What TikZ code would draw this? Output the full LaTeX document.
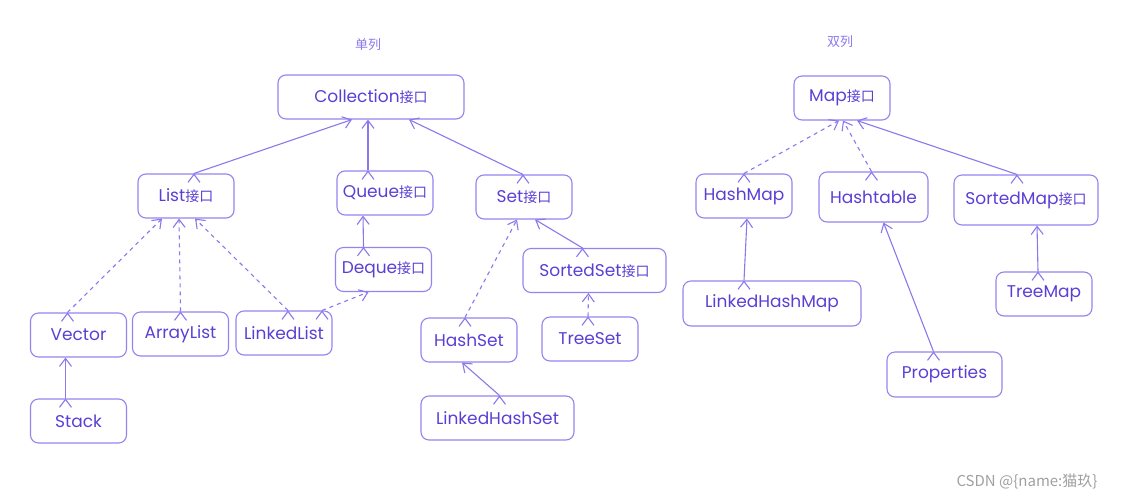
\documentclass[tikz,border=0pt]{standalone}
\usepackage{fontspec}
\setmainfont{Poppins}
\newfontfamily\cjk{Noto Sans CJK SC}
\usepackage{tikz}
\usetikzlibrary{arrows.meta,positioning}
\definecolor{boxline}{HTML}{9683F0}
\definecolor{boxtext}{HTML}{5B3FD4}
\definecolor{arrline}{HTML}{8B78EC}
\definecolor{marktext}{HTML}{A0A0A0}
\newcommand{\jiekou}{{\cjk\fontsize{14}{16}\selectfont 接口}}

\begin{document}
\begin{tikzpicture}[x=1pt, y=-1pt, line width=1.1pt,
    node_style/.style={rectangle, rounded corners=8pt, draw=boxline, text=boxtext,
        minimum width=96pt, minimum height=44pt, inner sep=2pt, font=\fontsize{17}{20}\selectfont},
    title_style/.style={text=arrline, font=\cjk\fontsize{13}{16}\selectfont},
    edge_solid/.style={draw=arrline, -{Straight Barb[length=8pt,width=12pt]}},
    edge_dash/.style={draw=arrline, dash pattern=on 4pt off 4pt, -{Straight Barb[length=8pt,width=12pt]}}]

	\useasboundingbox (0,0) rectangle (1129,501);

	\node[title_style] (t1) at (368, 45) {单列};
	\node[title_style] (t2) at (840, 42) {双列};

	% single column
	\node[node_style, minimum width=186pt] (coll) at (371, 97) {Collection\jiekou};
	\node[node_style] (list) at (186, 196) {List\jiekou};
	\node[node_style] (queue) at (385, 193) {Queue\jiekou};
	\node[node_style] (set) at (524, 197) {Set\jiekou};
	\node[node_style] (deque) at (383.5, 269.5) {Deque\jiekou};
	\node[node_style, minimum width=143pt] (sset) at (594.5, 270.5) {SortedSet\jiekou};
	\node[node_style] (vector) at (78.5, 335) {Vector};
	\node[node_style] (alist) at (180.5, 334) {ArrayList};
	\node[node_style] (llist) at (284, 333) {LinkedList};
	\node[node_style] (hset) at (469, 340) {HashSet};
	\node[node_style] (tset) at (590, 339) {TreeSet};
	\node[node_style] (stack) at (78.5, 421) {Stack};
	\node[node_style, minimum width=153pt] (lhset) at (497.5, 418) {LinkedHashSet};

	% double column
	\node[node_style] (map) at (842, 98) {Map\jiekou};
	\node[node_style] (hmap) at (744, 196) {HashMap};
	\node[node_style, minimum width=109pt, minimum height=50pt] (htable) at (873.5, 197) {Hashtable};
	\node[node_style, minimum width=144pt, minimum height=50pt] (smap) at (1026, 200) {SortedMap\jiekou};
	\node[node_style, minimum width=178pt, minimum height=45pt] (lhmap) at (772, 303.5) {LinkedHashMap};
	\node[node_style] (tmap) at (1044, 294) {TreeMap};
	\node[node_style, minimum width=115pt, minimum height=45pt] (props) at (944.5, 374.5) {Properties};

	\node[text=marktext, font=\cjk\fontsize{15}{18}\selectfont] (mark) at (1027, 481) {CSDN @\{name:猫玖\}};

	\draw[edge_solid] ([xshift=8]list.north) edge ([xshift=-19]coll.south);
	\draw[edge_solid] ([xshift=-17]queue.north) edge ([xshift=-3]coll.south);
	\draw[edge_solid] ([xshift=-1]set.north) edge ([xshift=38]coll.south);
	\draw[edge_solid] ([xshift=-20]deque.north) edge ([xshift=-22]queue.south);
	\draw[edge_solid] ([xshift=-12]sset.north) edge ([xshift=11]set.south);
	\draw[edge_dash] ([xshift=-4]hset.north) edge ([xshift=-7]set.south);
	\draw[edge_dash] ([xshift=-2]tset.north) edge ([xshift=-6]sset.south);
	\draw[edge_solid] ([xshift=2]lhset.north) edge ([xshift=-7]hset.south);

	\draw[edge_dash] ([xshift=-11]vector.north) edge ([xshift=-24]list.south);
	\draw[edge_dash] (alist.north) edge ([xshift=-7]list.south);
	\draw[edge_dash] ([xshift=4]llist.north) edge ([xshift=9]list.south);
	\draw[edge_dash] ([xshift=38]llist.north) edge ([xshift=-15]deque.south);
	\draw[edge_solid] ([xshift=-13]stack.north) edge ([xshift=-13]vector.south);

	\draw[edge_dash] (hmap.north) edge ([xshift=-3]map.south);
	\draw[edge_dash] ([xshift=-2]htable.north) edge ([xshift=1]map.south);
	\draw[edge_solid] ([xshift=-9]smap.north) edge ([xshift=15]map.south);
	\draw[edge_solid] ([xshift=-28]lhmap.north) edge ([xshift=3]hmap.south);
	\draw[edge_solid] ([xshift=-11]props.north) edge ([xshift=10]htable.south);
	\draw[edge_solid] ([xshift=-6]tmap.north) edge ([xshift=11]smap.south);
\end{tikzpicture}
\end{document}
